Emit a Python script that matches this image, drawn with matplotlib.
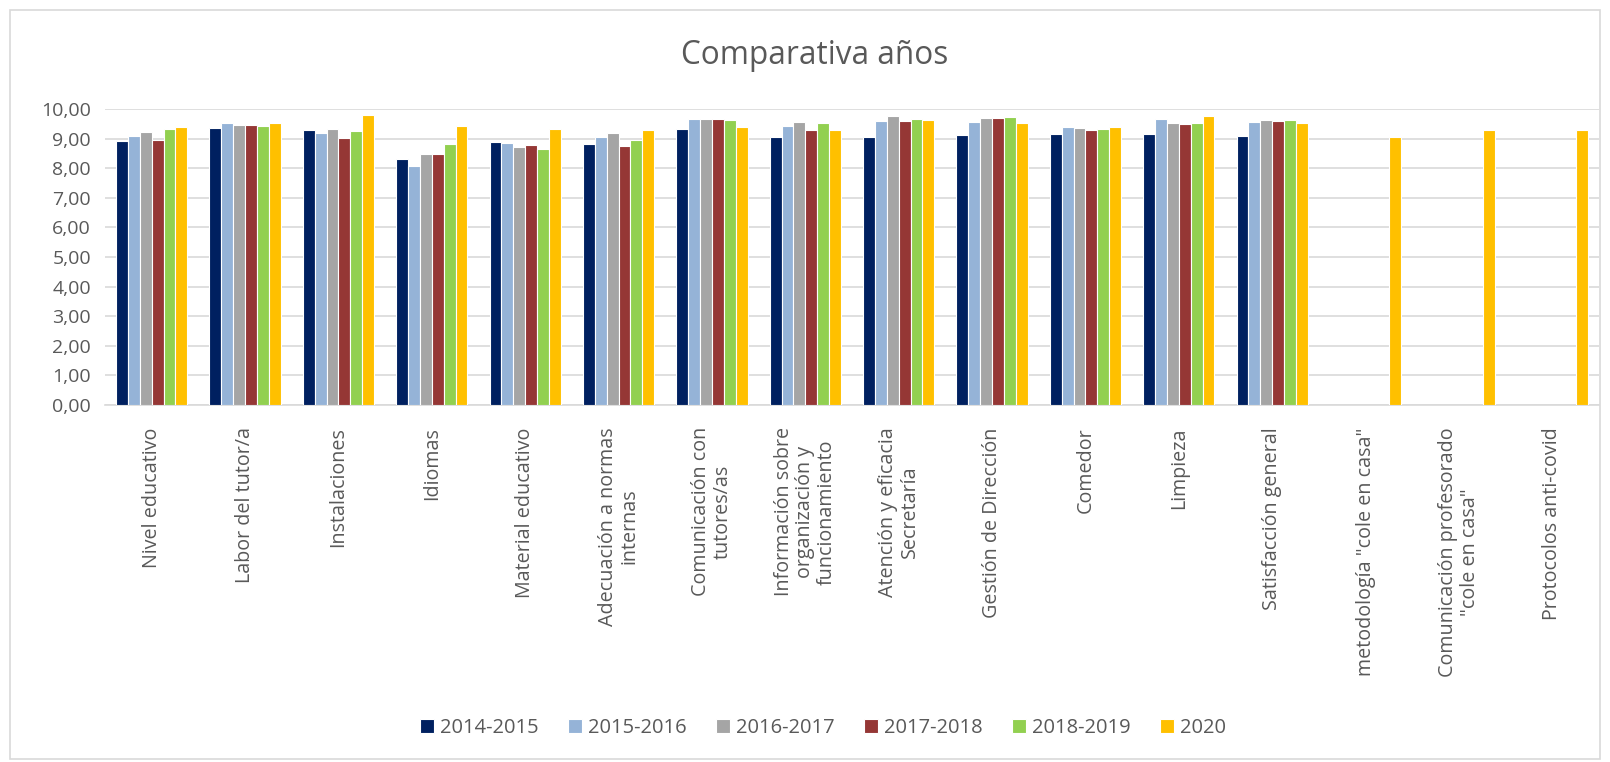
import numpy as np
import matplotlib
matplotlib.use('Agg')
import matplotlib.pyplot as plt
from matplotlib.patches import Rectangle

categories = [
    'Nivel educativo', 'Labor del tutor/a', 'Instalaciones', 'Idiomas',
    'Material educativo', 'Adecuación a normas\ninternas',
    'Comunicación con\ntutores/as',
    'Información sobre\norganización y\nfuncionamiento',
    'Atención y eficacia\nSecretaría', 'Gestión de Dirección', 'Comedor',
    'Limpieza', 'Satisfacción general', 'metodología "cole en casa"',
    'Comunicación profesorado\n"cole en casa"', 'Protocolos anti-covid',
]

nan = np.nan
y2014 = [8.92, 9.36, 9.28, 8.31, 8.89, 8.82, 9.33, 9.07, 9.07, 9.11, 9.15, 9.16, 9.09, nan, nan, nan]
y2015 = [9.09, 9.53, 9.18, 8.09, 8.84, 9.07, 9.66, 9.44, 9.61, 9.55, 9.38, 9.65, 9.57, nan, nan, nan]
y2016 = [9.22, 9.45, 9.33, 8.48, 8.70, 9.19, 9.65, 9.57, 9.75, 9.70, 9.36, 9.53, 9.63, nan, nan, nan]
y2017 = [8.94, 9.45, 9.01, 8.48, 8.80, 8.74, 9.65, 9.28, 9.58, 9.71, 9.29, 9.49, 9.61, nan, nan, nan]
y2018 = [9.31, 9.43, 9.27, 8.83, 8.64, 8.94, 9.62, 9.54, 9.65, 9.74, 9.31, 9.53, 9.63, nan, nan, nan]
y2020 = [9.39, 9.52, 9.81, 9.43, 9.31, 9.28, 9.39, 9.28, 9.64, 9.52, 9.39, 9.75, 9.53, 9.07, 9.29, 9.29]

series = [
    ('2014-2015', y2014, '#002060'),
    ('2015-2016', y2015, '#95B3D7'),
    ('2016-2017', y2016, '#A5A5A5'),
    ('2017-2018', y2017, '#953735'),
    ('2018-2019', y2018, '#92D050'),
    ('2020', y2020, '#FFC000'),
]

plt.rcParams['font.family'] = ['Open Sans', 'DejaVu Sans']
txt = '#595959'

fig = plt.figure(figsize=(16.1, 7.62), dpi=100)
fig.patches.append(Rectangle((0.006, 0.004), 0.988, 0.983, transform=fig.transFigure,
                             fill=False, edgecolor='#D9D9D9', linewidth=1.2))
ax = fig.add_axes([105 / 1610, 1 - 405 / 762, 1494 / 1610, 296 / 762])

x = np.arange(len(categories))
slot = 0.127
for i, (name, vals, col) in enumerate(series):
    ax.bar(x + (i - 2.5) * slot, vals, width=slot, color=col, edgecolor='white',
           linewidth=0.8, label=name, zorder=3)

ax.set_xlim(-0.5, len(categories) - 0.5)
ax.set_ylim(0, 10)
ax.set_yticks(np.arange(0, 11, 1))
ax.set_yticklabels(['%d,00' % v for v in range(11)], fontsize=14, color=txt)
ax.yaxis.grid(True, color='#D9D9D9', linewidth=1.2, zorder=0)
ax.tick_params(axis='both', length=0)
ax.tick_params(axis='y', pad=10)
ax.set_xticks(x)
ax.set_xticklabels(categories, rotation=90, fontsize=14.2, color=txt,
                   va='top', ha='center', multialignment='center',
                   linespacing=1.1)
ax.tick_params(axis='x', pad=16)
for s in ['top', 'right', 'left']:
    ax.spines[s].set_visible(False)
ax.spines['bottom'].set_color('#D9D9D9')
ax.spines['bottom'].set_linewidth(1.2)

fig.text(815 / 1610, 1 - 55 / 762, 'Comparativa años', ha='center', va='center',
         fontsize=22.7, color=txt)

fig.legend(loc='center', bbox_to_anchor=(823 / 1610, 1 - 728 / 762), ncol=6, frameon=False,
           fontsize=14.5, handlelength=0.7, handleheight=0.7, handletextpad=0.3,
           columnspacing=1.45, labelcolor=txt)

fig.savefig('out.png', dpi=100)
